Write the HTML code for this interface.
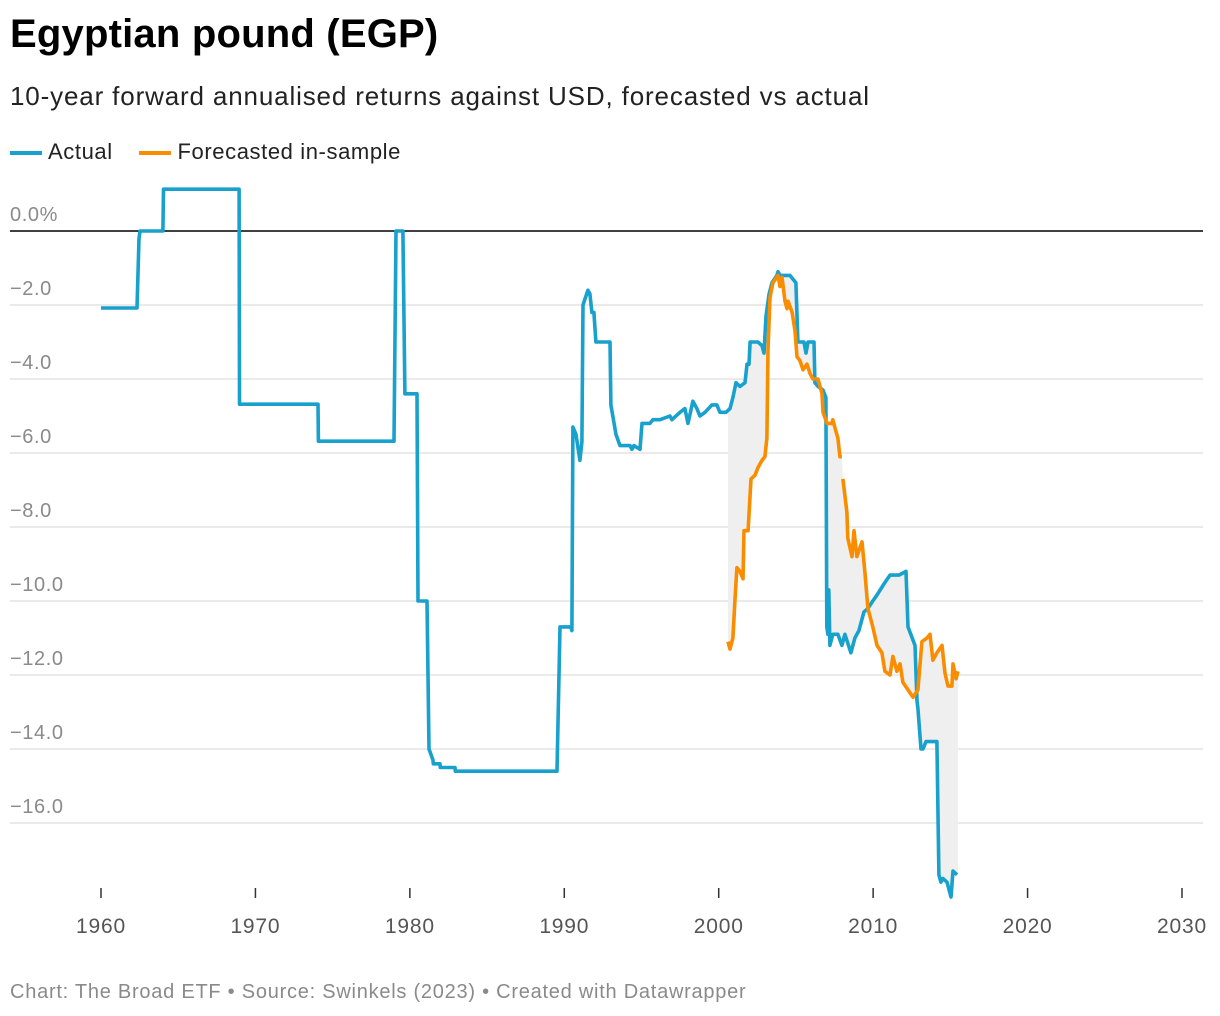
<!DOCTYPE html>
<html><head><meta charset="utf-8">
<style>
body{margin:0;background:#fff;font-family:"Liberation Sans",Arial,sans-serif;}
#wrap{position:relative;width:1220px;height:1016px;overflow:hidden;}
.t{position:absolute;left:10px;white-space:nowrap;}
</style></head>
<body>
<div id="wrap">
<div class="t" style="top:12px;font-size:40px;font-weight:bold;color:#000;letter-spacing:0.2px;">Egyptian pound (EGP)</div>
<div class="t" style="top:81px;font-size:26px;color:#222;letter-spacing:0.85px;">10-year forward annualised returns against USD, forecasted vs actual</div>
<div class="t" style="top:139px;font-size:22px;color:#222;letter-spacing:0.6px;">
<span><span style="display:inline-block;width:32px;height:4px;background:#18a1cd;vertical-align:middle;margin-right:6px;"></span>Actual</span>
<span style="margin-left:20px;"><span style="display:inline-block;width:32px;height:4px;background:#fa8c00;vertical-align:middle;margin-right:6px;"></span>Forecasted in-sample</span>
</div>
<svg id="chart" width="1220" height="1016" style="position:absolute;left:0;top:0;"></svg>
<div class="t" style="top:981px;font-size:20px;color:#8a8a8a;letter-spacing:0.75px;">Chart: The Broad ETF • Source: Swinkels (2023) • Created with Datawrapper</div>
</div>
<script>
const yTicks=[0,-2,-4,-6,-8,-10,-12,-14,-16];
const yTickLabels=["0.0%","−2.0","−4.0","−6.0","−8.0","−10.0","−12.0","−14.0","−16.0"];
const xTicks=[1960,1970,1980,1990,2000,2010,2020,2030];
const actualYears=[1960.00,1962.33,1962.46,1962.53,1964.01,1964.05,1968.94,1968.97,1974.05,1974.08,1978.97,1979.10,1979.55,1979.68,1980.46,1980.53,1981.11,1981.24,1981.50,1981.52,1981.95,1981.97,1982.92,1982.94,1984.02,1984.04,1989.53,1989.72,1990.43,1990.49,1990.56,1990.76,1991.01,1991.14,1991.21,1991.53,1991.66,1991.79,1991.92,1992.05,1992.96,1993.02,1993.35,1993.61,1994.26,1994.38,1994.51,1994.90,1995.03,1995.55,1995.74,1996.20,1996.84,1996.97,1997.49,1997.81,1998.01,1998.33,1998.59,1998.78,1999.11,1999.56,1999.88,2000.08,2000.47,2000.73,2000.92,2001.12,2001.38,2001.70,2001.83,2001.96,2002.03,2002.54,2002.80,2002.93,2003.06,2003.26,2003.45,2003.77,2003.84,2003.97,2004.61,2005.00,2005.13,2005.52,2005.65,2005.78,2006.17,2006.23,2006.43,2006.75,2006.94,2007.00,2007.07,2007.13,2007.20,2007.39,2007.72,2007.98,2008.17,2008.56,2008.82,2009.08,2009.40,2009.66,2009.98,2010.31,2010.76,2011.09,2011.67,2012.13,2012.26,2012.71,2012.84,2012.90,2013.10,2013.23,2013.42,2014.13,2014.26,2014.39,2014.52,2014.78,2015.04,2015.17,2015.43];
const actualValues=[-2.08,-2.08,-0.2,0,0,1.13,1.13,-4.68,-4.68,-5.68,-5.68,0,0,-4.4,-4.4,-10.0,-10.0,-14.0,-14.3,-14.4,-14.4,-14.5,-14.5,-14.6,-14.6,-14.6,-14.6,-10.7,-10.7,-10.8,-5.3,-5.5,-6.2,-5.7,-2.0,-1.6,-1.7,-2.2,-2.2,-3.0,-3.0,-4.7,-5.5,-5.8,-5.8,-5.9,-5.8,-5.9,-5.2,-5.2,-5.1,-5.1,-5.0,-5.1,-4.9,-4.8,-5.2,-4.6,-4.8,-5.0,-4.9,-4.7,-4.7,-4.9,-4.9,-4.8,-4.5,-4.1,-4.2,-4.1,-3.6,-3.6,-3.0,-3.0,-3.1,-3.3,-2.3,-1.7,-1.4,-1.2,-1.1,-1.2,-1.2,-1.4,-3.0,-3.0,-3.3,-3.0,-3.0,-4.1,-4.2,-4.3,-4.5,-10.7,-10.9,-9.7,-11.2,-10.9,-10.9,-11.2,-10.9,-11.4,-11.0,-10.8,-10.3,-10.2,-10.0,-9.8,-9.5,-9.3,-9.3,-9.2,-10.7,-11.2,-12.7,-12.9,-14.0,-14.0,-13.8,-13.8,-17.4,-17.6,-17.5,-17.6,-18.0,-17.3,-17.4];
const forecastYears=[2000.60,2000.73,2000.92,2001.05,2001.18,2001.38,2001.57,2001.64,2001.90,2002.09,2002.35,2002.54,2002.80,2002.99,2003.12,2003.19,2003.32,2003.51,2003.84,2003.97,2004.10,2004.29,2004.42,2004.49,2004.75,2004.94,2005.07,2005.26,2005.46,2005.72,2005.91,2006.10,2006.43,2006.69,2006.75,2007.01,2007.33,2007.39,2007.52,2007.72,2007.85,2007.98,2008.01,2008.04,2008.30,2008.36,2008.63,2008.76,2008.95,2009.28,2009.47,2009.66,2009.98,2010.25,2010.57,2010.76,2011.09,2011.28,2011.54,2011.74,2011.93,2012.26,2012.58,2012.90,2013.16,2013.49,2013.68,2013.87,2014.13,2014.46,2014.65,2014.85,2015.10,2015.17,2015.37,2015.49];
const forecastValues=[-11.1,-11.3,-11.0,-10.0,-9.1,-9.2,-9.4,-8.1,-8.1,-6.7,-6.6,-6.4,-6.2,-6.1,-5.6,-3.2,-1.8,-1.4,-1.2,-1.5,-1.25,-1.9,-2.1,-1.9,-2.2,-2.7,-3.4,-3.5,-3.75,-3.6,-3.85,-4.0,-4.0,-4.4,-4.9,-5.2,-5.2,-5.1,-5.3,-5.6,-6.1,-6.1,null,-6.7,-7.6,-8.3,-8.8,-8.1,-8.8,-8.4,-9.25,-10.2,-10.7,-11.2,-11.4,-11.9,-12.0,-11.5,-11.9,-11.7,-12.2,-12.4,-12.6,-12.4,-11.1,-11.0,-10.9,-11.6,-11.4,-11.2,-11.95,-12.3,-12.3,-11.7,-12.1,-11.9];

const svg=document.getElementById('chart');
const NS='http://www.w3.org/2000/svg';
function X(yr){return 101+(yr-1960)*(1081/70);}
function Y(v){return 231-v*37;}
function mk(tag,attrs){const e=document.createElementNS(NS,tag);for(const k in attrs)e.setAttribute(k,attrs[k]);svg.appendChild(e);return e;}

yTicks.forEach((v,i)=>{
  const l=mk('line',{x1:10,x2:1203,y1:Y(v),y2:Y(v),stroke:v===0?'#000':'#e3e3e3','stroke-width':1.5});
  
  
  const t=mk('text',{x:10,y:Y(v)-10,'font-size':20,fill:'#8a8a8a','letter-spacing':'0.6','font-family':'Liberation Sans, Arial, sans-serif'});
  t.textContent=yTickLabels[i];
  
  
});
xTicks.forEach(yr=>{
  const l=mk('line',{x1:X(yr),x2:X(yr),y1:888,y2:898,stroke:'#333','stroke-width':1.5});
  
  
  const t=mk('text',{x:X(yr),y:933,'font-size':21,fill:'#555','text-anchor':'middle','letter-spacing':'0.8','font-family':'Liberation Sans, Arial, sans-serif'});
  t.textContent=yr;
  
  
});
(function(){
  const f=[];forecastYears.forEach((y,i)=>{if(forecastValues[i]!==null)f.push([X(y),Y(forecastValues[i])]);});
  const y0=forecastYears[0],y1=forecastYears[forecastYears.length-1];
  function interp(yr){for(let i=1;i<actualYears.length;i++){if(actualYears[i]>=yr){const a=actualYears[i-1],b=actualYears[i];const t=b===a?0:(yr-a)/(b-a);return actualValues[i-1]+(actualValues[i]-actualValues[i-1])*t;}}return actualValues[actualValues.length-1];}
  const a=[[X(y0),Y(interp(y0))]];
  actualYears.forEach((y,i)=>{if(y>y0&&y<y1)a.push([X(y),Y(actualValues[i])]);});
  a.push([X(y1),Y(interp(y1))]);
  const pts=f.concat(a.reverse()).map(p=>p.join(',')).join(' ');
  const p=mk('polygon',{points:pts,fill:'#efefef',stroke:'none'});
  
  
})();
function path(ys,vs){let d='',pen=false;ys.forEach((y,i)=>{const v=vs[i];if(v===null){pen=false;return;}d+=(pen?'L':'M')+X(y).toFixed(1)+','+Y(v).toFixed(1);pen=true;});return d;}
const pa=mk('path',{d:path(actualYears,actualValues),fill:'none',stroke:'#18a1cd','stroke-width':3.6,'stroke-linejoin':'round'});


const pf=mk('path',{d:path(forecastYears,forecastValues),fill:'none',stroke:'#fa8c00','stroke-width':3.6,'stroke-linejoin':'round'});


</script>
</body></html>
